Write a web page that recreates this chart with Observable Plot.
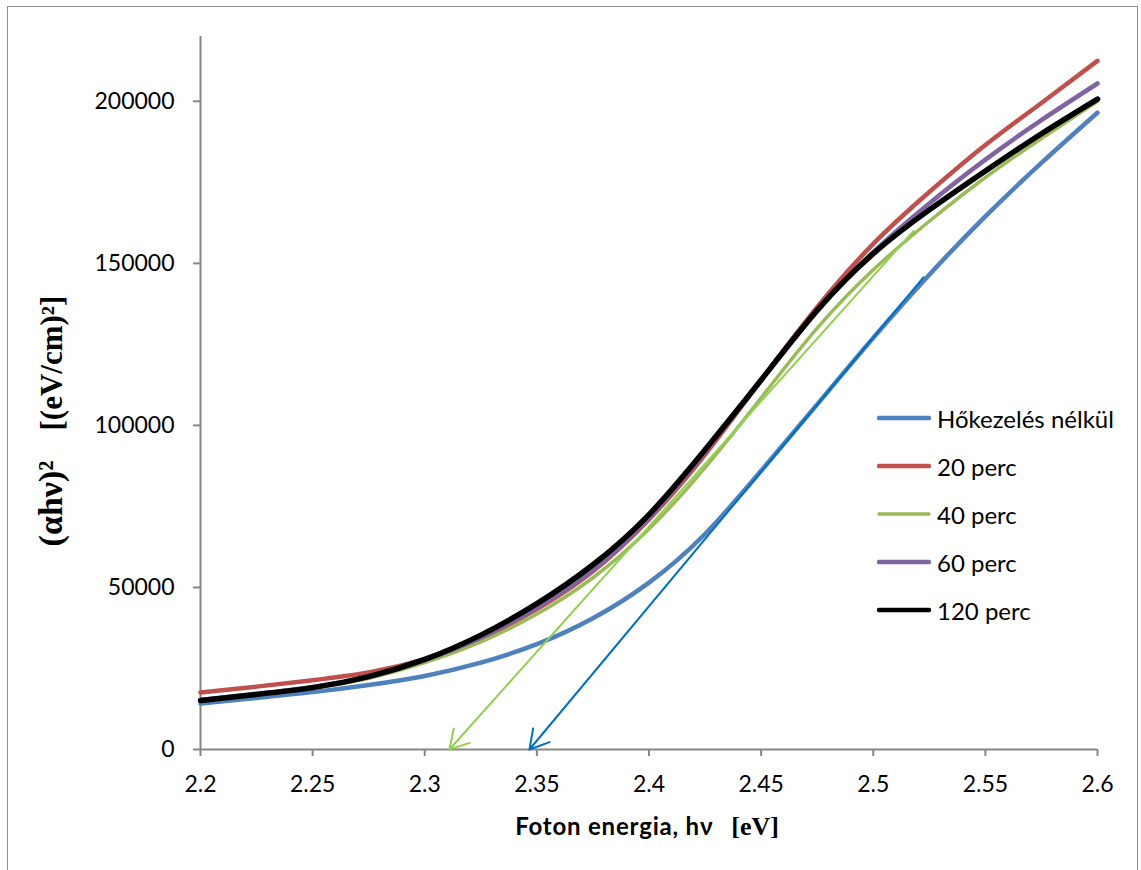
<!DOCTYPE html>
<html>
<head>
<meta charset="utf-8">
<script src="https://cdn.jsdelivr.net/npm/d3@7"></script>
<script src="https://cdn.jsdelivr.net/npm/@observablehq/plot@0.6"></script>
<style>
  html, body { margin: 0; padding: 0; background: #fff; }
  #wrap { position: relative; width: 1141px; height: 870px; overflow: hidden; font-family: Lato, "Open Sans", sans-serif; }
  #frame { position: absolute; left: 7px; top: 6px; width: 1131px; height: 900px; border: 1.5px solid #8f8f8f; box-sizing: border-box; pointer-events: none; }
  #legend { position: absolute; left: 877px; top: 0; }
  .item { position: absolute; left: 0; height: 30px; display: flex; align-items: center; white-space: nowrap; font-size: 24px; color: #000; }
  .item svg { display: block; margin-right: 6px; }
</style>
</head>
<body>
<div id="wrap">
  <div id="frame"></div>
  <div id="chart"></div>
  <div id="legend"></div>
</div>
<script>
// ---- data ----
const xValues = [2.2, 2.225, 2.25, 2.275, 2.3, 2.325, 2.35, 2.375, 2.4, 2.425, 2.45, 2.475, 2.5, 2.525, 2.55, 2.575, 2.6];
const seriesNames = ["Hőkezelés nélkül", "20 perc", "40 perc", "60 perc", "120 perc"];
const seriesColors = ["#4F81BD", "#C0504D", "#9BBB59", "#8064A2", "#000000"];
const valuesNoHeat = [14200, 15900, 17700, 19900, 22700, 26800, 32500, 40500, 51500, 66500, 86000, 106500, 127000, 146500, 164500, 181000, 196500];
const values20 = [17600, 19400, 21400, 23800, 27900, 34300, 43300, 55000, 71000, 91000, 114000, 136500, 156000, 172000, 186500, 199500, 212500];
const values40 = [15000, 16900, 19000, 22000, 26800, 33200, 41800, 53000, 68000, 87000, 108500, 130000, 148000, 163000, 176500, 188500, 200000];
const values60 = [15300, 17200, 19300, 22400, 27600, 34500, 43800, 55500, 71500, 92000, 114000, 135500, 153500, 168500, 182000, 194200, 205500];
const values120 = [15100, 17000, 19100, 22500, 27800, 35300, 45000, 57000, 72500, 92500, 114000, 135500, 153000, 166500, 178500, 190000, 200700];
const xTicks = [2.2, 2.25, 2.3, 2.35, 2.4, 2.45, 2.5, 2.55, 2.6];
const yTicks = [0, 50000, 100000, 150000, 200000];
// tangent (band-gap) arrows: start point on the curve, end on the x axis
const arrowColors = ["#0070C0", "#92D050"];
const arrowX1 = [2.5224, 2.518];
const arrowY1 = [145700, 160000];
const arrowX2 = [2.3467, 2.311];
const arrowY2 = [0, 0];

const allValues = [valuesNoHeat, values20, values40, values60, values120];
const lineWidths = [4.5, 4.5, 3.5, 4.5, 5.5];

const lineMarks = allValues.map((vals, k) =>
  Plot.line(xValues.map((x, i) => ({x, y: vals[i]})), {
    x: "x", y: "y", stroke: seriesColors[k], strokeWidth: lineWidths[k], curve: "natural"
  })
);

const arrows = arrowX1.map((_, i) => ({x1: arrowX1[i], y1: arrowY1[i], x2: arrowX2[i], y2: arrowY2[i], c: arrowColors[i]}));

const chart = Plot.plot({
  width: 1141,
  height: 870,
  marginLeft: 200,
  marginRight: 44,
  marginTop: 36,
  marginBottom: 121,
  x: {domain: [2.2, 2.6]},
  y: {domain: [0, 220000]},
  style: {fontFamily: "Lato, 'Open Sans', sans-serif", fontSize: "23px", color: "#000", background: "transparent", overflow: "visible"},
  marks: [
    Plot.ruleX([xTicks[0]], {stroke: "#868686", strokeWidth: 2}),
    Plot.ruleY([yTicks[0]], {stroke: "#868686", strokeWidth: 2}),
    Plot.axisX({ticks: xTicks, tickSize: 7, tickPadding: 19, stroke: "#868686", strokeWidth: 2, tickFormat: d => String(d), label: null, fill: "#000"}),
    Plot.axisY({ticks: yTicks, tickSize: 7, tickPadding: 19, stroke: "#868686", strokeWidth: 2, tickFormat: d => String(d), label: null, fill: "#000"}),
    ...lineMarks,
    Plot.arrow(arrows, {x1: "x1", y1: "y1", x2: "x2", y2: "y2", stroke: "c", strokeWidth: 2, headLength: 16, headAngle: 60})
  ]
});
document.getElementById("chart").appendChild(chart);

// axis titles with mixed fonts
const svg = d3.select(chart);
const xt = svg.append("text")
  .attr("x", 647).attr("y", 835)
  .attr("text-anchor", "middle")
  .attr("fill", "#000");
xt.append("tspan").attr("font-family", "Lato, 'Open Sans', sans-serif").attr("font-weight", "bold").attr("font-size", 24).attr("letter-spacing", "0.8px").text("Foton energia, hν");
xt.append("tspan").attr("font-family", "'Liberation Serif', serif").attr("font-weight", "bold").attr("font-size", 26).attr("dx", 18).text("[eV]");

const yt = svg.append("text")
  .attr("transform", "translate(62,421) rotate(-90)")
  .attr("text-anchor", "middle")
  .attr("fill", "#000")
  .attr("font-family", "'Liberation Serif', serif")
  .attr("font-weight", "bold");
yt.append("tspan").attr("font-size", 34).text("(αhν)²");
yt.append("tspan").attr("font-size", 31).attr("dx", 30).text("[(eV/cm)²]");

// legend
const legendCenters = [418, 466, 514, 562, 610];
const legend = d3.select("#legend");
seriesNames.forEach((name, k) => {
  const item = legend.append("div").attr("class", "item").style("top", (legendCenters[k] - 15) + "px");
  const s = item.append("svg").attr("width", 54).attr("height", 8);
  s.append("line").attr("x1", 2).attr("x2", 52).attr("y1", 4).attr("y2", 4)
    .attr("stroke", seriesColors[k]).attr("stroke-width", k === 2 ? 3.5 : 4.5).attr("stroke-linecap", "round");
  item.append("span").text(name);
});
</script>
</body>
</html>
